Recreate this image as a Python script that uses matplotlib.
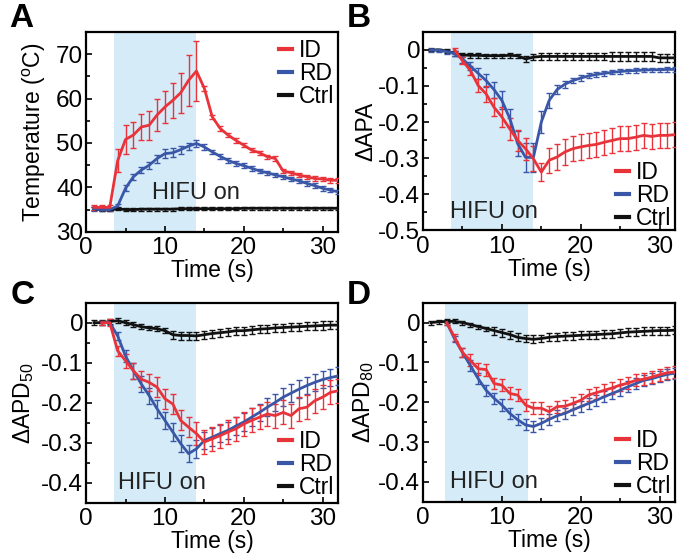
import matplotlib
matplotlib.use("Agg")
import matplotlib.pyplot as plt
from matplotlib.ticker import MultipleLocator, FuncFormatter

plt.rcParams['font.family'] = ['Liberation Sans', 'DejaVu Sans']
plt.rcParams['mathtext.fontset'] = 'custom'
plt.rcParams['mathtext.rm'] = 'Liberation Sans'
plt.rcParams['axes.unicode_minus'] = False

RED = '#e8333a'
BLUE = '#3a57a7'
BLACK = '#111111'
SHADE = '#d5ecf8'

t_all = list(range(1, 33))

# ---- A: temperature ----
a_id = [35.5, 35.5, 35.5, 46.0, 50.8, 51.8, 53.6, 54.0, 56.3, 58.1, 59.6, 61.3, 64.1, 66.2,
        62.3, 55.9, 53.3, 51.8, 50.6, 49.5, 48.4, 47.8, 46.9, 46.5, 43.7, 43.3, 42.8, 42.4,
        42.0, 41.9, 41.6, 41.6]
a_id_err = [0.5, 0.5, 0.5, 2.6, 3.2, 3.0, 3.0, 3.3, 3.5, 3.5, 4.0, 4.5, 5.8, 6.8,
            0.6, 0.5, 0.5, 0.5, 0.5, 0.5, 0.5, 0.5, 0.5, 0.5, 0.5, 0.5, 0.5, 0.5,
            0.5, 0.5, 0.5, 0.5]
a_rd = [35.2, 35.0, 35.0, 35.8, 39.8, 42.4, 43.9, 45.0, 46.5, 47.6, 47.8, 48.5, 49.3, 49.9,
        49.1, 48.0, 47.0, 46.1, 45.4, 44.9, 44.3, 43.7, 43.3, 42.8, 42.4, 41.9, 41.5, 40.9,
        40.4, 39.8, 39.4, 39.0]
a_rd_err = [0.4, 0.4, 0.4, 0.5, 0.7, 0.7, 0.7, 0.8, 0.9, 1.0, 1.0, 0.9, 0.8, 0.7,
            0.6, 0.5, 0.5, 0.5, 0.5, 0.5, 0.5, 0.5, 0.5, 0.5, 0.5, 0.5, 0.5, 0.5,
            0.5, 0.5, 0.5, 0.5]
a_ctrl = [35.2, 34.9, 34.9, 35.2, 35.0, 35.0, 35.1, 35.1, 35.1, 35.1, 35.1, 35.2, 35.2, 35.2,
          35.2, 35.2, 35.2, 35.2, 35.2, 35.3, 35.3, 35.3, 35.3, 35.3, 35.3, 35.3, 35.3, 35.3,
          35.3, 35.3, 35.3, 35.3]
a_ctrl_err = [0.3] * 32

# ---- B: delta APA ----
b_t_id = list(range(4, 33))
b_id = [0.0, -0.03, -0.057, -0.099, -0.122, -0.159, -0.186, -0.219, -0.251, -0.274, -0.302,
        -0.339, -0.306, -0.297, -0.283, -0.274, -0.269, -0.265, -0.262, -0.256, -0.251,
        -0.246, -0.246, -0.242, -0.237, -0.240, -0.237, -0.237, -0.235]
b_id_err = [0.005, 0.01, 0.012, 0.018, 0.022, 0.025, 0.028, 0.03, 0.03, 0.03, 0.035,
            0.025, 0.035, 0.035, 0.035, 0.035, 0.035, 0.035, 0.035, 0.035, 0.035,
            0.035, 0.035, 0.035, 0.035, 0.035, 0.035, 0.035, 0.035]
b_rd = [0.0, -0.001, -0.005, -0.01, -0.025, -0.045, -0.065, -0.085, -0.11, -0.14, -0.19,
        -0.26, -0.298, -0.298, -0.2, -0.14, -0.11, -0.095, -0.085, -0.078, -0.072, -0.068,
        -0.065, -0.062, -0.06, -0.058, -0.057, -0.056, -0.055, -0.055, -0.054, -0.054]
b_rd_err = [0.005, 0.005, 0.006, 0.008, 0.01, 0.012, 0.015, 0.018, 0.022, 0.025, 0.025,
            0.035, 0.04, 0.04, 0.03, 0.02, 0.012, 0.01, 0.008, 0.008, 0.007, 0.007,
            0.006, 0.006, 0.006, 0.006, 0.006, 0.006, 0.006, 0.006, 0.006, 0.006]
b_ctrl = [0.0, 0.0, -0.003, -0.01, -0.014, -0.015, -0.015, -0.016, -0.016, -0.016, -0.015,
          -0.016, -0.025, -0.02, -0.018, -0.018, -0.018, -0.018, -0.018, -0.018, -0.018,
          -0.018, -0.018, -0.018, -0.018, -0.018, -0.018, -0.018, -0.018, -0.022, -0.022, -0.022]
b_ctrl_err = [0.004, 0.004, 0.005, 0.006, 0.006, 0.006, 0.006, 0.006, 0.006, 0.006, 0.006,
              0.006, 0.008, 0.008, 0.01, 0.01, 0.01, 0.01, 0.01, 0.01, 0.01, 0.01, 0.01,
              0.012, 0.012, 0.012, 0.012, 0.012, 0.012, 0.012, 0.012, 0.012]

# ---- C: delta APD50 ----
c_t = list(range(2, 33))
c_id = [0.0, 0.0, -0.07, -0.095, -0.12, -0.141, -0.149, -0.161, -0.19, -0.203, -0.244,
        -0.261, -0.277, -0.298, -0.29, -0.282, -0.273, -0.265, -0.253, -0.244, -0.236,
        -0.228, -0.232, -0.224, -0.232, -0.215, -0.211, -0.195, -0.186, -0.174, -0.17]
c_id_err = [0.005, 0.008, 0.012, 0.018, 0.02, 0.02, 0.022, 0.025, 0.025, 0.025, 0.025,
            0.025, 0.028, 0.03, 0.03, 0.03, 0.03, 0.03, 0.03, 0.03, 0.03,
            0.03, 0.03, 0.03, 0.03, 0.03, 0.03, 0.03, 0.03, 0.03, 0.03]
c_rd = [0.0, 0.0, -0.033, -0.083, -0.12, -0.153, -0.182, -0.215, -0.244, -0.273, -0.302,
        -0.327, -0.315, -0.294, -0.286, -0.277, -0.269, -0.258, -0.248, -0.236, -0.224,
        -0.211, -0.199, -0.186, -0.176, -0.166, -0.157, -0.149, -0.142, -0.137, -0.133]
c_rd_err = [0.005, 0.005, 0.01, 0.015, 0.02, 0.02, 0.02, 0.022, 0.022, 0.022, 0.022,
            0.022, 0.022, 0.022, 0.022, 0.022, 0.022, 0.022, 0.022, 0.022, 0.022,
            0.022, 0.022, 0.022, 0.022, 0.022, 0.022, 0.022, 0.022, 0.022, 0.022]
c_ctrl = [0.0, 0.0, 0.003, 0.005, 0.0, -0.005, -0.01, -0.013, -0.015, -0.02, -0.03,
          -0.032, -0.032, -0.033, -0.03, -0.027, -0.025, -0.023, -0.02, -0.02, -0.018,
          -0.016, -0.015, -0.013, -0.012, -0.011, -0.01, -0.009, -0.008, -0.007, -0.006, -0.006]
c_ctrl_err = [0.006] * 10 + [0.01] * 22

# ---- D: delta APD80 ----
d_t = list(range(3, 33))
d_id = [0.0, -0.037, -0.075, -0.095, -0.116, -0.118, -0.153, -0.157, -0.178, -0.182, -0.207,
        -0.215, -0.215, -0.224, -0.211, -0.21, -0.203, -0.195, -0.182, -0.176, -0.17,
        -0.164, -0.157, -0.152, -0.145, -0.142, -0.137, -0.131, -0.126, -0.124]
d_id_err = [0.005, 0.008, 0.012] + [0.015] * 27
d_rd = [0.0, -0.041, -0.075, -0.108, -0.141, -0.17, -0.19, -0.207, -0.228, -0.244, -0.257,
        -0.261, -0.253, -0.243, -0.234, -0.228, -0.219, -0.211, -0.203, -0.195, -0.186,
        -0.178, -0.17, -0.161, -0.153, -0.145, -0.141, -0.135, -0.13, -0.127]
d_rd_err = [0.005, 0.008, 0.012] + [0.014] * 27
d_ctrl = [0.0, 0.002, 0.003, 0.003, 0.0, -0.005, -0.01, -0.015, -0.02, -0.025, -0.03,
          -0.037, -0.04, -0.042, -0.04, -0.037, -0.035, -0.034, -0.033, -0.032, -0.031,
          -0.03, -0.029, -0.028, -0.026, -0.024, -0.023, -0.022, -0.021, -0.02, -0.02, -0.019]
d_ctrl_err = [0.005] * 8 + [0.01] * 24


def fmt(v, pos):
    if abs(v) < 1e-9:
        return '0'
    return ('%g' % round(v, 2))


fig = plt.figure(figsize=(6.78, 5.6), dpi=100)
positions = {
    'A': [0.127, 0.586, 0.372, 0.357],
    'B': [0.624, 0.589, 0.372, 0.354],
    'C': [0.127, 0.102, 0.372, 0.3575],
    'D': [0.624, 0.104, 0.372, 0.3555],
}


def draw(ax, series, shade, ylim, ymajor, yminor, ylabel, ypad, hifu_xy, leg_loc, leg_anchor):
    ax.axvspan(shade[0], shade[1], color=SHADE, lw=0, zorder=0)
    for x, y, e, c, lab in series:
        ax.errorbar(x, y, yerr=e, color=c, lw=2, elinewidth=1, capsize=2,
                    capthick=1, label=lab, zorder=3)
    ax.set_xlim(0, 32)
    ax.set_ylim(*ylim)
    ax.xaxis.set_major_locator(MultipleLocator(10))
    ax.xaxis.set_minor_locator(MultipleLocator(5))
    ax.yaxis.set_major_locator(MultipleLocator(ymajor))
    ax.yaxis.set_minor_locator(MultipleLocator(yminor))
    ax.yaxis.set_major_formatter(FuncFormatter(fmt))
    ax.tick_params(which='both', direction='in', labelsize=17.5)
    ax.tick_params(axis='x', pad=4)
    ax.tick_params(axis='y', pad=2)
    ax.tick_params(which='major', length=4, width=1.2)
    ax.tick_params(which='minor', length=3, width=1.2)
    for s in ax.spines.values():
        s.set_linewidth(1.6)
    ax.set_xlabel('Time (s)', fontsize=16.5, labelpad=0)
    ax.set_ylabel(ylabel, fontsize=16.5, labelpad=ypad)
    ax.text(hifu_xy[0], hifu_xy[1], 'HIFU on', fontsize=17, ha='left', va='center',
            color='#222222', zorder=4)
    handles, labels = ax.get_legend_handles_labels()
    order = [labels.index(k) for k in ['ID', 'RD', 'Ctrl']]
    h = [plt.Line2D([], [], color=handles[i][0].get_color(), lw=3) for i in order]
    ax.legend(h, [labels[i] for i in order], loc=leg_loc, bbox_to_anchor=leg_anchor,
              frameon=False, fontsize=16.5, handlelength=0.6, handletextpad=0.3,
              labelspacing=0.0, borderpad=0, borderaxespad=0)


axA = fig.add_axes(positions['A'])
draw(axA,
     [(t_all, a_ctrl, a_ctrl_err, BLACK, 'Ctrl'),
      (t_all, a_rd, a_rd_err, BLUE, 'RD'),
      (t_all, a_id, a_id_err, RED, 'ID')],
     (3.5, 14), (30, 75), 10, 5, 'Temperature ($^{\\rm o}$C)', 6, (8.3, 38.8),
     'upper right', (0.985, 0.965))

axB = fig.add_axes(positions['B'])
draw(axB,
     [(t_all, b_ctrl, b_ctrl_err, BLACK, 'Ctrl'),
      (t_all, b_rd, b_rd_err, BLUE, 'RD'),
      (b_t_id, b_id, b_id_err, RED, 'ID')],
     (3.5, 14), (-0.5, 0.05), 0.1, 0.05, '\u0394APA', 1, (3.4, -0.45),
     'lower right', (0.985, 0.0))

axC = fig.add_axes(positions['C'])
draw(axC,
     [(t_all, c_ctrl, c_ctrl_err, BLACK, 'Ctrl'),
      (c_t, c_rd, c_rd_err, BLUE, 'RD'),
      (c_t, c_id, c_id_err, RED, 'ID')],
     (3.5, 14), (-0.45, 0.05), 0.1, 0.05, '\u0394APD$_{\\rm 50}$', 4, (4.0, -0.4),
     'lower right', (0.985, 0.02))

axD = fig.add_axes(positions['D'])
draw(axD,
     [(t_all, d_ctrl, d_ctrl_err, BLACK, 'Ctrl'),
      (d_t, d_rd, d_rd_err, BLUE, 'RD'),
      (d_t, d_id, d_id_err, RED, 'ID')],
     (2.8, 13.3), (-0.45, 0.05), 0.1, 0.05, '\u0394APD$_{\\rm 80}$', 2, (3.4, -0.4),
     'lower right', (0.985, 0.02))

for letter, (x, y) in zip('ABCD', [(0.013, 0.995), (0.512, 0.995), (0.015, 0.5), (0.512, 0.5)]):
    fig.text(x, y, letter, fontsize=24, fontweight='bold', ha='left', va='top')

fig.savefig('out.png', dpi=100)
